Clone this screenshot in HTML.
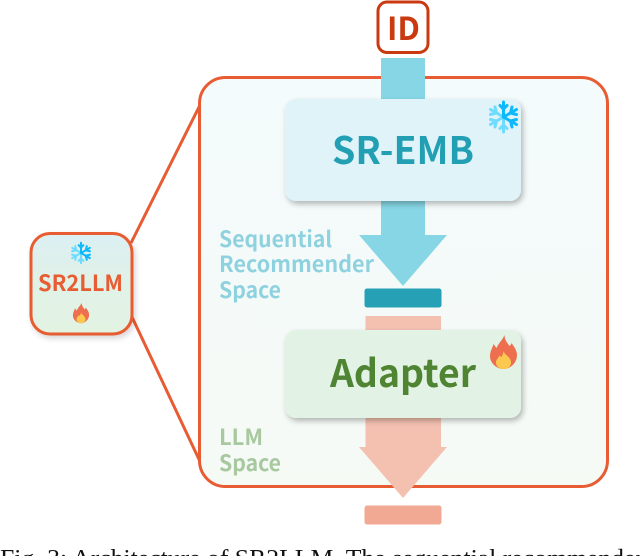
<!DOCTYPE html>
<html><head><meta charset="utf-8">
<style>
html,body{margin:0;padding:0;background:#fff;width:640px;height:556px;overflow:hidden}
svg{display:block}
.b{font-family:"Noto Sans CJK JP","Liberation Sans",sans-serif;font-weight:700}
</style></head>
<body>
<svg width="640" height="556" viewBox="0 0 640 556" xmlns="http://www.w3.org/2000/svg">
<defs>
<linearGradient id="g1" x1="0" y1="0" x2="0" y2="1"><stop offset="0" stop-color="#dceff3"/><stop offset=".45" stop-color="#e0f1e8"/><stop offset="1" stop-color="#e3f3e2"/></linearGradient>
<linearGradient id="g2" x1="0" y1="0" x2="0" y2="1"><stop offset="0" stop-color="#f4fbfc"/><stop offset="1" stop-color="#f5faf5"/></linearGradient>
<filter id="sh" x="-10%" y="-10%" width="125%" height="130%"><feDropShadow dx="2" dy="3" stdDeviation="3" flood-color="#000" flood-opacity=".28"/></filter>
<filter id="sh2" x="-20%" y="-20%" width="150%" height="150%"><feDropShadow dx="2" dy="3" stdDeviation="3" flood-color="#000" flood-opacity=".16"/></filter>
<g id="flake" fill="none" stroke-linecap="round">
  <g stroke="#6fdcff" stroke-width="3">
    <path d="M0 0V15M-3.500 11.500L0 8L3.500 11.500"/>
    <path d="M0 0L-13 7.500M-13 2.500L-7 4L-8.500 10"/>
    <path d="M0 0L-13 -7.500M-13 -2.500L-7 -4L-8.500 -10"/>
  </g>
  <g stroke="#0db8fb" stroke-width="3">
    <path d="M0 0V-15M-3.500 -11.500L0 -8L3.500 -11.500"/>
    <path d="M0 0L13 -7.500M8.500 -10L7 -4L13 -2.500"/>
    <path d="M0 0L13 7.500M13 2.500L7 4L8.500 10"/>
  </g>
</g>
<g id="fire">
  <path d="M1 -17C1 -12 4 -9 6 -6C7 -7 8 -8 8 -9C10 -6 13.500 -2 13.500 3C13.500 11 7 17 0 17C-7 17 -13.500 11 -13.500 4C-13.500 -1 -11 -4 -10 -8C-9 -7 -8 -5 -7 -4C-5 -9 -1 -12 1 -17Z" fill="#ee6f50"/>
  <path d="M0 -1C1 3 7.500 5 7.500 10.500C7.500 14.500 4 17 0 17C-4 17 -7.500 14.500 -7.500 10.500C-7.500 7.500 -5 6 -4 3.500C-3 4.500 -2 5 -2 5C-1 3 0 1 0 -1Z" fill="#fdc84f"/>
</g>
</defs>

<!-- connector lines -->
<path d="M131 243L204 97M132 317L204 470" fill="none" stroke="#e85c33" stroke-width="3"/>

<!-- main container -->
<rect x="199.500" y="77.500" width="408" height="409" rx="26" fill="url(#g2)" stroke="#e85c33" stroke-width="3"/>

<!-- ID -->
<rect x="378" y="2" width="50" height="50.500" rx="9" fill="#fff" stroke="#c93a10" stroke-width="3"/>
<text x="403.500" y="40" text-anchor="middle" class="b" font-size="32" fill="#c93a10" textLength="33" lengthAdjust="spacingAndGlyphs">ID</text>

<!-- blue arrow -->
<path d="M381 58H425V235H447L403 286L359 235H381Z" fill="#86d6e5"/>

<!-- SR-EMB -->
<rect x="285" y="99" width="236" height="102" rx="11" fill="#dff3f9" filter="url(#sh)"/>
<text x="403" y="164" text-anchor="middle" class="b" font-size="38" fill="#239fb4" textLength="142" lengthAdjust="spacingAndGlyphs">SR-EMB</text>
<use href="#flake" transform="translate(503.500,117)"/>

<!-- labels -->
<g class="b" font-size="22" fill="#8fd2df">
  <text x="219" y="247" textLength="113" lengthAdjust="spacingAndGlyphs">Sequential</text>
  <text x="219" y="272" textLength="155" lengthAdjust="spacingAndGlyphs">Recommender</text>
  <text x="219" y="298" textLength="62" lengthAdjust="spacingAndGlyphs">Space</text>
</g>
<g class="b" font-size="22" fill="#a8c8a0">
  <text x="219" y="445" textLength="44" lengthAdjust="spacingAndGlyphs">LLM</text>
  <text x="219" y="471" textLength="62" lengthAdjust="spacingAndGlyphs">Space</text>
</g>

<!-- dark bar -->
<rect x="364.500" y="288.500" width="77" height="19" rx="2.500" fill="#25a0b5"/>

<!-- pink arrow -->
<path d="M365.500 316H441V447H447L403 498L359 447H365.500Z" fill="#f4c1b1"/>

<!-- Adapter -->
<rect x="285" y="330" width="236" height="88" rx="11" fill="#e2f3e5" filter="url(#sh)"/>
<text x="403" y="387" text-anchor="middle" class="b" font-size="38" fill="#4f8433" textLength="146" lengthAdjust="spacingAndGlyphs">Adapter</text>
<use href="#fire" transform="translate(503.500,352)"/>

<!-- bottom bar -->
<rect x="364.500" y="505.500" width="77" height="19" rx="2.500" fill="#f1a993"/>

<!-- SR2LLM -->
<rect x="31" y="233.500" width="101" height="100.500" rx="19" fill="url(#g1)" stroke="#e85c33" stroke-width="3" filter="url(#sh2)"/>
<use href="#flake" transform="translate(81,253) scale(.68)"/>
<text x="80.500" y="291" text-anchor="middle" class="b" font-size="22" fill="#e85c33" textLength="85" lengthAdjust="spacingAndGlyphs">SR2LLM</text>
<use href="#fire" transform="translate(81,313) scale(.6)"/>

<!-- caption -->
<text x="0" y="566" font-family="'Liberation Serif',serif" font-size="24" fill="#111" textLength="644" lengthAdjust="spacingAndGlyphs">Fig. 3: Architecture of SR2LLM. The sequential recommender</text>
</svg>
</body></html>
